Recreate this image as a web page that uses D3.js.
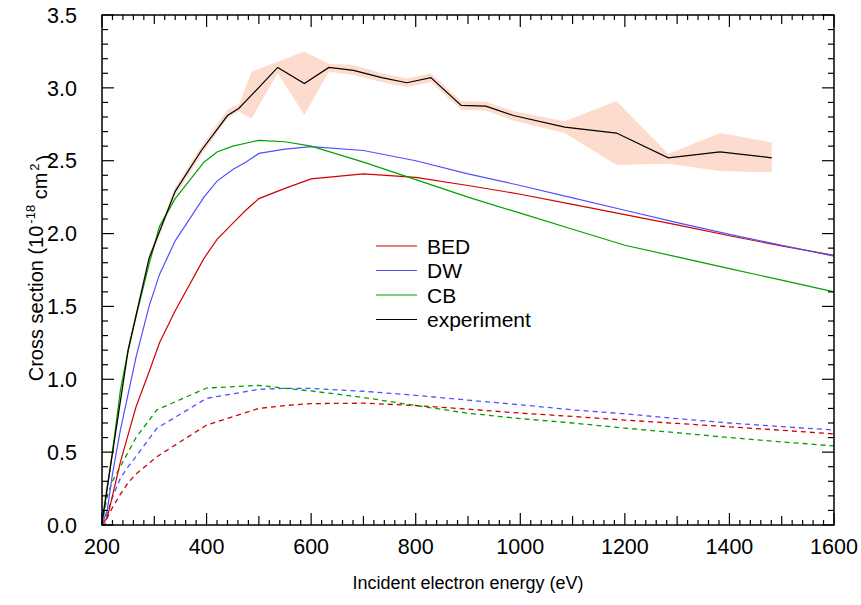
<!DOCTYPE html>
<html>
<head>
<meta charset="utf-8">
<script src="https://cdn.jsdelivr.net/npm/d3@7/dist/d3.min.js"></script>
<style>
  body { margin: 0; background: #fff; }
  svg text { font-family: "Liberation Sans", Arial, sans-serif; fill: #000; }
</style>
</head>
<body>
<svg id="chart" width="861" height="605"></svg>
<script>
// theory curves, solid (upper set)
var theory_energy = [200, 210, 220, 235, 250, 265, 290, 310, 340, 395, 420, 450, 475, 500, 550, 600, 700, 800, 900, 1000, 1100, 1200, 1300, 1400, 1500, 1600];
var bed_solid = [0, 0.05, 0.2, 0.43, 0.62, 0.81, 1.05, 1.25, 1.47, 1.83, 1.96, 2.07, 2.16, 2.24, 2.31, 2.375, 2.41, 2.385, 2.33, 2.27, 2.2, 2.13, 2.06, 1.985, 1.915, 1.85];
var dw_solid = [0, 0.1, 0.35, 0.65, 0.9, 1.15, 1.5, 1.72, 1.95, 2.25, 2.36, 2.44, 2.49, 2.55, 2.58, 2.596, 2.57, 2.5, 2.41, 2.33, 2.245, 2.16, 2.075, 1.995, 1.92, 1.845];
var cb_solid = [0, 0.25, 0.5, 0.92, 1.2, 1.43, 1.79, 2.05, 2.24, 2.49, 2.56, 2.6, 2.62, 2.64, 2.63, 2.6, 2.49, 2.37, 2.25, 2.14, 2.03, 1.92, 1.84, 1.76, 1.68, 1.6];

// theory curves, dashed (lower set)
var dashed_energy = [200, 205, 210, 220, 235, 250, 265, 305, 400, 500, 550, 600, 700, 800, 900, 1000, 1100, 1200, 1300, 1400, 1500, 1600];
var bed_dashed = [0, 0, 0.05, 0.12, 0.21, 0.29, 0.35, 0.469, 0.686, 0.8, 0.82, 0.833, 0.836, 0.82, 0.795, 0.768, 0.745, 0.72, 0.697, 0.674, 0.65, 0.625];
var dw_dashed = [0, 0.03, 0.08, 0.19, 0.32, 0.4, 0.47, 0.664, 0.869, 0.931, 0.938, 0.937, 0.918, 0.89, 0.857, 0.825, 0.79, 0.763, 0.73, 0.7, 0.675, 0.652];
var cb_dashed = [0, 0.1, 0.2, 0.3, 0.4, 0.5, 0.6, 0.79, 0.94, 0.958, 0.938, 0.92, 0.875, 0.82, 0.767, 0.73, 0.7, 0.665, 0.633, 0.6, 0.57, 0.543];

// experiment with uncertainty band
var exp_energy = [200, 250, 290, 340, 390, 440, 462, 486, 536, 587, 634, 681, 735, 783, 829, 887, 934, 987, 1085, 1184, 1283, 1382, 1481];
var exp_value = [0.02, 1.2, 1.83, 2.29, 2.57, 2.81, 2.86, 2.95, 3.14, 3.03, 3.14, 3.12, 3.07, 3.035, 3.07, 2.88, 2.875, 2.81, 2.73, 2.69, 2.52, 2.56, 2.52];
var exp_upper = [0.1, 1.24, 1.86, 2.32, 2.6, 2.85, 2.89, 3.11, 3.18, 3.25, 3.165, 3.157, 3.1, 3.065, 3.1, 2.91, 2.905, 2.84, 2.77, 2.91, 2.546, 2.69, 2.625];
var exp_lower = [0, 1.16, 1.8, 2.26, 2.54, 2.79, 2.837, 2.79, 3.1, 2.814, 3.11, 3.088, 3.04, 3.005, 3.04, 2.85, 2.845, 2.775, 2.69, 2.47, 2.48, 2.43, 2.42];

var x_ticks = [200, 400, 600, 800, 1000, 1200, 1400, 1600];
var y_ticks = [0, 0.5, 1, 1.5, 2, 2.5, 3, 3.5];

var legend_names = ["BED", "DW", "CB", "experiment"];
var legend_colors = ["#d00000", "#5050ff", "#00a000", "#000000"];

var margin = { left: 102, right: 27, top: 15, bottom: 80 };
var width = 861 - margin.left - margin.right;
var height = 605 - margin.top - margin.bottom;

var svg = d3.select("#chart");
var g = svg.append("g").attr("transform", "translate(" + margin.left + "," + margin.top + ")");

var x = d3.scaleLinear().domain([200, 1600]).range([0, width]);
var y = d3.scaleLinear().domain([0, 3.5]).range([height, 0]);

function zip_points(p_x, p_y)
{
    var result = [];
    for(var i = 0; i < p_x.length; i++)
    {
        result.push([p_x[i], p_y[i]]);
    }
    return result;
}

var line = d3.line().x(function(d) { return x(d[0]); }).y(function(d) { return y(d[1]); });

// band
var band = d3.area()
    .x(function(d, i) { return x(exp_energy[i]); })
    .y0(function(d, i) { return y(exp_lower[i]); })
    .y1(function(d, i) { return y(exp_upper[i]); });

g.append("path")
    .attr("d", band(exp_energy))
    .attr("fill", "#fddccd")
    .attr("stroke", "none");

function draw_curve(p_x, p_y, p_color, p_dash)
{
    var path = g.append("path")
        .attr("d", line(zip_points(p_x, p_y)))
        .attr("fill", "none")
        .attr("stroke", p_color)
        .attr("stroke-width", 1.2);
    if(p_dash)
    {
        path.attr("stroke-dasharray", "5,4").attr("stroke-width", 1.3);
    }
}

draw_curve(dashed_energy, bed_dashed, legend_colors[0], true);
draw_curve(dashed_energy, dw_dashed, legend_colors[1], true);
draw_curve(dashed_energy, cb_dashed, legend_colors[2], true);

draw_curve(theory_energy, bed_solid, legend_colors[0], false);
draw_curve(theory_energy, dw_solid, legend_colors[1], false);
draw_curve(theory_energy, cb_solid, legend_colors[2], false);

draw_curve(exp_energy, exp_value, legend_colors[3], false);

// frame and inward ticks on all sides
var x_minor = d3.range(200, 1601, 20);
var y_minor = d3.range(0, 36, 1).map(function(d) { return d / 10; });

function x_tick_len(v)
{
    if(v % 200 == 0) return 12;
    if(v % 100 == 0) return 9;
    return 5;
}

function y_tick_len(v)
{
    if(Math.abs(v * 2 - Math.round(v * 2)) < 1e-6) return 12;
    return 6;
}

var ticks_g = g.append("g").attr("stroke", "#000").attr("stroke-width", 1.2);

x_minor.forEach(function(v)
{
    var len = x_tick_len(v);
    ticks_g.append("line").attr("x1", x(v)).attr("x2", x(v)).attr("y1", height).attr("y2", height - len);
    ticks_g.append("line").attr("x1", x(v)).attr("x2", x(v)).attr("y1", 0).attr("y2", len);
});

y_minor.forEach(function(v)
{
    var len = y_tick_len(v);
    ticks_g.append("line").attr("x1", 0).attr("x2", len).attr("y1", y(v)).attr("y2", y(v));
    ticks_g.append("line").attr("x1", width).attr("x2", width - len).attr("y1", y(v)).attr("y2", y(v));
});

g.append("rect")
    .attr("x", 0).attr("y", 0)
    .attr("width", width).attr("height", height)
    .attr("fill", "none")
    .attr("stroke", "#000")
    .attr("stroke-width", 1.5);

// tick labels
g.selectAll(".xlab").data(x_ticks).enter().append("text")
    .attr("class", "xlab")
    .attr("x", function(d) { return x(d); })
    .attr("y", height + 29)
    .attr("text-anchor", "middle")
    .style("font-size", "21.5px")
    .text(function(d) { return d; });

g.selectAll(".ylab").data(y_ticks).enter().append("text")
    .attr("class", "ylab")
    .attr("x", -25)
    .attr("y", function(d) { return y(d); })
    .attr("dy", "0.36em")
    .attr("text-anchor", "end")
    .style("font-size", "21.5px")
    .text(function(d) { return d.toFixed(1); });

// axis titles
svg.append("text")
    .attr("x", margin.left + width / 2)
    .attr("y", 589)
    .attr("text-anchor", "middle")
    .style("font-size", "18px")
    .text("Incident electron energy (eV)");

var ytitle = svg.append("text")
    .attr("transform", "translate(43,268) rotate(-90)")
    .attr("text-anchor", "middle")
    .style("font-size", "20px");
ytitle.append("tspan").text("Cross section (10");
ytitle.append("tspan").attr("dy", "-0.6em").attr("dx", "2").style("font-size", "13px").text("-18");
ytitle.append("tspan").attr("dy", "0.6em").text(" cm");
ytitle.append("tspan").attr("dy", "-0.6em").attr("dx", "2").style("font-size", "13px").text("2");
ytitle.append("tspan").attr("dy", "0.6em").attr("dx", "2").text(")");

// legend
var legend = svg.append("g").attr("transform", "translate(376,246)");
legend_names.forEach(function(name, i)
{
    var row = legend.append("g").attr("transform", "translate(0," + (i * 24.5) + ")");
    row.append("line")
        .attr("x1", 0).attr("x2", 41)
        .attr("y1", 0).attr("y2", 0)
        .attr("stroke", legend_colors[i])
        .attr("stroke-width", 1.2);
    row.append("text")
        .attr("x", 51)
        .attr("y", 0)
        .attr("dy", "0.36em")
        .style("font-size", "21px")
        .text(name);
});
</script>
</body>
</html>
